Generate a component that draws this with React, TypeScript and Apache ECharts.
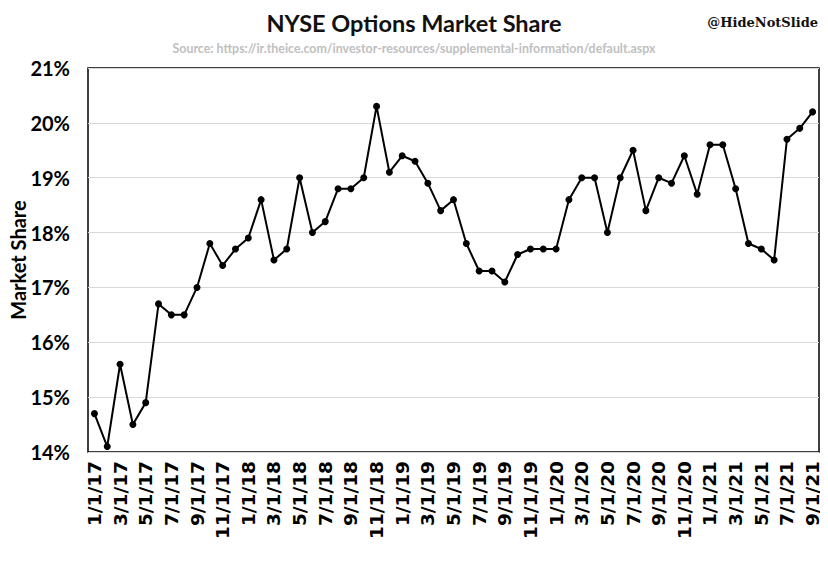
import React, { useEffect, useRef } from "react";
import * as echarts from "echarts";

const months: string[] = [
  "1/1/17","2/1/17","3/1/17","4/1/17","5/1/17","6/1/17","7/1/17","8/1/17","9/1/17","10/1/17","11/1/17","12/1/17",
  "1/1/18","2/1/18","3/1/18","4/1/18","5/1/18","6/1/18","7/1/18","8/1/18","9/1/18","10/1/18","11/1/18","12/1/18",
  "1/1/19","2/1/19","3/1/19","4/1/19","5/1/19","6/1/19","7/1/19","8/1/19","9/1/19","10/1/19","11/1/19","12/1/19",
  "1/1/20","2/1/20","3/1/20","4/1/20","5/1/20","6/1/20","7/1/20","8/1/20","9/1/20","10/1/20","11/1/20","12/1/20",
  "1/1/21","2/1/21","3/1/21","4/1/21","5/1/21","6/1/21","7/1/21","8/1/21","9/1/21",
];

const marketShare: number[] = [
  14.7, 14.1, 15.6, 14.5, 14.9, 16.7, 16.5, 16.5, 17.0, 17.8, 17.4, 17.7,
  17.9, 18.6, 17.5, 17.7, 19.0, 18.0, 18.2, 18.8, 18.8, 19.0, 20.3, 19.1,
  19.4, 19.3, 18.9, 18.4, 18.6, 17.8, 17.3, 17.3, 17.1, 17.6, 17.7, 17.7,
  17.7, 18.6, 19.0, 19.0, 18.0, 19.0, 19.5, 18.4, 19.0, 18.9, 19.4, 18.7,
  19.6, 19.6, 18.8, 17.8, 17.7, 17.5, 19.7, 19.9, 20.2,
];

const titleText = "NYSE Options Market Share";
const sourceText = "Source: https://ir.theice.com/investor-resources/supplemental-information/default.aspx";
const handleText = "@HideNotSlide";
const yAxisName = "Market Share";

export default function App() {
  const ref = useRef<HTMLDivElement>(null);
  useEffect(() => {
    if (!ref.current) return;
    const chart = echarts.init(ref.current, null, { renderer: "svg" });
    chart.setOption({
      animation: false,
      backgroundColor: "#fff",
      title: [
        {
          text: titleText,
          left: "center",
          top: 6,
          textStyle: { fontFamily: "Lato", fontWeight: "bold", fontSize: 23.5, color: "#111" },
        },
        {
          text: sourceText,
          left: "center",
          top: 37,
          textStyle: { fontFamily: "Lato", fontWeight: "bold", fontSize: 12.4, color: "#c0c0c0" },
        },
        {
          text: handleText,
          right: 5,
          top: 11,
          textStyle: { fontFamily: "DejaVu Serif", fontWeight: "bold", fontSize: 13, color: "#111" },
        },
      ],
      grid: {
        left: 88,
        right: 9,
        top: 68,
        bottom: 109,
        show: true,
        borderColor: "#000",
        borderWidth: 1.5,
        backgroundColor: "transparent",
        outerBoundsMode: "none",
        containLabel: false,
      },
      xAxis: {
        type: "category",
        data: months,
        boundaryGap: true,
        axisLine: { show: false },
        axisTick: { show: false },
        axisLabel: {
          interval: 1,
          rotate: 90,
          margin: 9,
          fontFamily: "DejaVu Sans",
          fontWeight: "bold",
          fontSize: 18.5,
          color: "#000",
        },
        splitLine: { show: false },
      },
      yAxis: {
        type: "value",
        min: 14,
        max: 21,
        interval: 1,
        name: yAxisName,
        nameLocation: "middle",
        nameGap: 60,
        nameMoveOverlap: false,
        nameTextStyle: { fontFamily: "Lato", fontWeight: "bold", fontSize: 20, color: "#000" },
        axisLine: { show: false },
        axisTick: { show: false },
        axisLabel: {
          formatter: (v: number) => `${v}%`,
          margin: 18,
          fontFamily: "Lato",
          fontWeight: "bold",
          fontSize: 20,
          color: "#000",
        },
        splitLine: { show: true, lineStyle: { color: "#d9d9d9", width: 1 } },
      },
      series: [
        {
          type: "line",
          data: marketShare,
          symbol: "circle",
          symbolSize: 7,
          lineStyle: { color: "#000", width: 2 },
          itemStyle: { color: "#000" },
        },
      ],
    });
    return () => chart.dispose();
  }, []);
  return <div ref={ref} style={{ width: 828, height: 561, margin: -8 }} />;
}
